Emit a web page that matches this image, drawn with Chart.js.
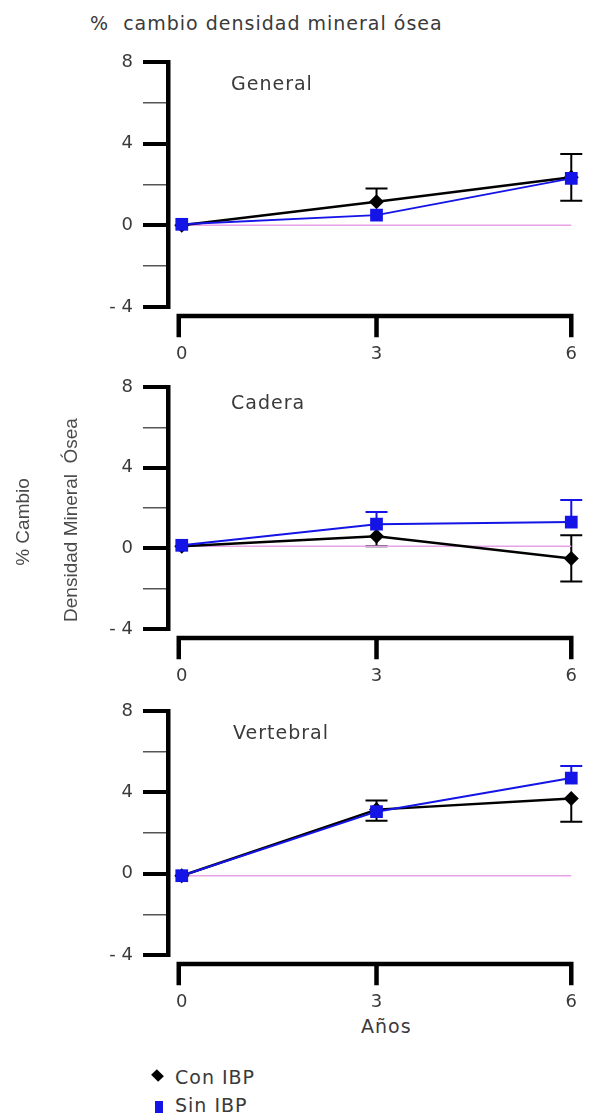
<!DOCTYPE html>
<html lang="es">
<head>
<meta charset="utf-8">
<title>% cambio densidad mineral ósea</title>
<script src="https://cdn.jsdelivr.net/npm/chart.js@4.4.1/dist/chart.umd.min.js"></script>
<style>
  html, body { margin: 0; padding: 0; background: #fff; }
  body { position: relative; width: 614px; height: 1113px; overflow: hidden;
         font-family: "DejaVu Sans", Verdana, sans-serif; color: #3a3a3a; }
  canvas { position: absolute; left: 0; }
  .txt { position: absolute; white-space: pre; line-height: 1; font-size: 19px; letter-spacing: 1px; }
  .rot { position: absolute; white-space: pre; line-height: 1; font-family: "Liberation Sans", Arial, sans-serif;
         font-size: 19px; color: #4a4a4a; transform: translate(-50%, -50%) rotate(-90deg); }
  .diamond { position: absolute; width: 9px; height: 9px; background: #000; transform: rotate(45deg) scale(1.1, 0.9); }
  .bluebox { position: absolute; width: 8px; height: 12px; background: #1414e6; }
</style>
</head>
<body>
<div class="txt" style="left:90px; top:14px;">%  cambio densidad mineral ósea</div>

<canvas id="general" width="614" height="325" style="top:40px"></canvas>
<canvas id="cadera" width="614" height="322" style="top:365px"></canvas>
<canvas id="vertebral" width="614" height="324" style="top:689px"></canvas>

<div class="txt" style="left:231px; top:74px;">General</div>
<div class="txt" style="left:231px; top:393px;">Cadera</div>
<div class="txt" style="left:233px; top:723px;">Vertebral</div>

<div class="rot" style="left:22px; top:522px;">% Cambio</div>
<div class="rot" style="left:70px; top:520px;">Densidad Mineral  Ósea</div>

<div class="txt" style="left:361px; top:1017px;">Años</div>

<div class="diamond" style="left:153px; top:1071px;"></div>
<div class="txt" style="left:175px; top:1068px;">Con IBP</div>
<div class="bluebox" style="left:155px; top:1101px;"></div>
<div class="txt" style="left:175px; top:1096px;">Sin IBP</div>

<script>
const years = [0, 3, 6];
const xTicks = [0, 3, 6];
const yTicks = [-4, -2, 0, 2, 4, 6, 8];
const yTickLabels = ['- 4', '', '0', '', '4', '', '8'];
const baseX = [0, 6];

// General
const generalCon = [0, 1.15, 2.35];
const generalConErr = [[0, 0], [0, 0.65], [1.15, 1.15]];
const generalSin = [0.05, 0.5, 2.3];
const generalSinErr = [[0, 0], [0, 0], [0, 0]];
const generalBase = [0, 0];

// Cadera
const caderaCon = [0.1, 0.6, -0.5];
const caderaConErr = [[0, 0], [0.5, 0], [1.15, 1.15]];
const caderaSin = [0.15, 1.2, 1.3];
const caderaSinErr = [[0, 0], [0, 0.6], [0, 1.1]];
const caderaBase = [0.1, 0.1];

// Vertebral
const vertebralCon = [-0.1, 3.15, 3.7];
const vertebralConErr = [[0, 0], [0.55, 0.45], [1.15, 0]];
const vertebralSin = [-0.1, 3.05, 4.7];
const vertebralSinErr = [[0, 0], [0, 0], [0, 0.6]];
const vertebralBase = [-0.1, -0.1];

const BLUE = '#1414e6';
const tickFont = { family: 'DejaVu Sans', size: 18 };

const errorBars = {
  id: 'errorBars',
  beforeDatasetsDraw(chart) {
    const ctx = chart.ctx;
    const ys = chart.scales.y;
    chart.data.datasets.forEach((ds, di) => {
      if (!ds.errors) return;
      const meta = chart.getDatasetMeta(di);
      ctx.save();
      ctx.strokeStyle = ds.borderColor;
      ctx.lineWidth = 2;
      meta.data.forEach((pt, i) => {
        const dn = ds.errors[i][0], up = ds.errors[i][1];
        if (!dn && !up) return;
        const v = ds.data[i].y;
        const top = ys.getPixelForValue(v + up);
        const bot = ys.getPixelForValue(v - dn);
        ctx.beginPath();
        ctx.moveTo(pt.x, top);
        ctx.lineTo(pt.x, bot);
        if (up) { ctx.moveTo(pt.x - 11, top); ctx.lineTo(pt.x + 11, top); }
        if (dn) { ctx.moveTo(pt.x - 11, bot); ctx.lineTo(pt.x + 11, bot); }
        ctx.stroke();
      });
      ctx.restore();
    });
  }
};

// x axis sits a little below the y axis, starting at year 0
const xAxisLine = {
  id: 'xAxisLine',
  afterDraw(chart) {
    const ctx = chart.ctx;
    const xs = chart.scales.x;
    const y0 = chart.chartArea.bottom + 9;
    const left = xs.getPixelForValue(xTicks[0]) - 3;
    ctx.save();
    ctx.strokeStyle = '#000';
    ctx.lineWidth = 4.5;
    ctx.lineCap = 'square';
    ctx.beginPath();
    ctx.moveTo(left, y0);
    ctx.lineTo(xs.getPixelForValue(xTicks[xTicks.length - 1]), y0);
    xTicks.forEach((t, i) => {
      const px = i === 0 ? left : xs.getPixelForValue(t);
      ctx.moveTo(px, y0);
      ctx.lineTo(px, y0 + 19);
    });
    ctx.stroke();
    ctx.restore();
  }
};

function points(vals) {
  return vals.map((v, i) => ({ x: years[i], y: v }));
}

function makeChart(id, con, conErr, sin, sinErr, base) {
  return new Chart(document.getElementById(id), {
    type: 'line',
    data: {
      datasets: [
        {
          label: 'Sin IBP',
          data: points(sin),
          errors: sinErr,
          borderColor: BLUE,
          backgroundColor: BLUE,
          borderWidth: 2,
          pointStyle: 'rect',
          pointRadius: 9,
          pointBorderWidth: 0,
          clip: false
        },
        {
          label: 'Con IBP',
          data: points(con),
          errors: conErr,
          borderColor: '#000',
          backgroundColor: '#000',
          borderWidth: 2.5,
          pointStyle: 'rectRot',
          pointRadius: 7.5,
          pointBorderWidth: 0,
          clip: false
        },
        {
          label: 'base',
          data: baseX.map((x, i) => ({ x: x, y: base[i] })),
          borderColor: '#e8a2e8',
          borderWidth: 1.5,
          pointRadius: 0,
          clip: false
        }
      ]
    },
    options: {
      responsive: false,
      animation: false,
      events: [],
      layout: { padding: { top: 22, right: 36, left: 0, bottom: 0 } },
      plugins: { legend: { display: false }, tooltip: { enabled: false } },
      scales: {
        x: {
          type: 'linear',
          min: -0.212,
          max: 6,
          afterBuildTicks: s => { s.ticks = xTicks.map(v => ({ value: v })); },
          afterFit: s => { s.height = 58; },
          border: { display: false },
          grid: { display: false, drawTicks: false },
          ticks: { padding: 37, color: '#3a3a3a', font: tickFont, maxRotation: 0, autoSkip: false }
        },
        y: {
          min: -4,
          max: 8,
          afterBuildTicks: s => { s.ticks = yTicks.map(v => ({ value: v })); },
          afterFit: s => { s.width = 168; },
          border: { display: true, color: '#000', width: 4.5 },
          grid: {
            drawOnChartArea: false,
            drawTicks: true,
            tickLength: 25,
            lineWidth: c => (c.tick && c.tick.value % 4 === 0) ? 4 : 1.5,
            color: c => (c.tick && c.tick.value % 4 === 0) ? '#000' : '#555'
          },
          ticks: {
            padding: 10,
            color: '#3a3a3a',
            font: tickFont,
            autoSkip: false,
            callback: (v, i) => yTickLabels[i]
          }
        }
      }
    },
    plugins: [errorBars, xAxisLine]
  });
}

makeChart('general', generalCon, generalConErr, generalSin, generalSinErr, generalBase);
makeChart('cadera', caderaCon, caderaConErr, caderaSin, caderaSinErr, caderaBase);
makeChart('vertebral', vertebralCon, vertebralConErr, vertebralSin, vertebralSinErr, vertebralBase);
</script>
</body>
</html>
